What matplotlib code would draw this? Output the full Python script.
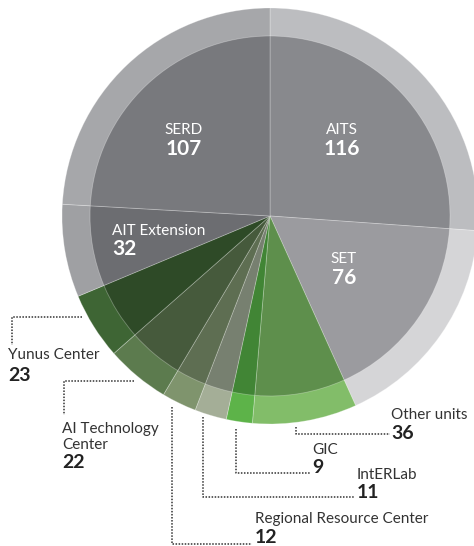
import matplotlib
matplotlib.use("Agg")
import matplotlib.pyplot as plt

# ---- data ----
units = ["AITS", "SET", "Other units", "GIC", "IntERLab", "Regional Resource Center",
         "AI Technology Center", "Yunus Center", "AIT Extension", "SERD"]
counts = [116, 76, 36, 9, 11, 12, 22, 23, 32, 107]
inner_colors = ["#88898d", "#9b9b9f", "#5e8f4c", "#418535", "#778070", "#5e6e52",
                "#465a3c", "#2e4a27", "#6c6d71", "#78797d"]
outer_colors = ["#bcbdc0", "#d5d5d7", "#82bd69", "#5db349", "#a4ae97", "#7f946d",
                "#5c7b4e", "#3e6534", "#9fa0a3", "#a6a7aa"]

W, H = 474, 546
fam = ["Lato", "DejaVu Sans"]

fig = plt.figure(figsize=(W / 100, H / 100), dpi=100)
ax = fig.add_axes([0, 0, 1, 1])

def Y(y):
    return H - y

cx, cy = 270, Y(216)
edge = dict(linewidth=0.6, edgecolor=(1, 1, 1, 0.3))
ax.pie(counts, radius=208, center=(cx, cy), startangle=90, counterclock=False,
       colors=outer_colors, wedgeprops=edge)
ax.pie(counts, radius=180, center=(cx, cy), startangle=90, counterclock=False,
       colors=inner_colors, wedgeprops=edge)

ax.set_xlim(0, W)
ax.set_ylim(0, H)
ax.set_aspect("equal")
ax.axis("off")

# inside labels
inside = {"SERD": (184, 134, 155, "center"),
          "AITS": (342, 134, 155, "center"),
          "AIT Extension": (112, 235, 255, "left"),
          "SET": (344, 263, 284, "center")}
for name, (x, yl, yn, ha) in inside.items():
    v = counts[units.index(name)]
    ax.text(x, Y(yl), name, color="white", fontsize=11, family=fam,
            fontweight="normal", ha=ha, va="baseline")
    ax.text(x, Y(yn), str(v), color="white", fontsize=15, family=fam,
            fontweight="bold", ha=ha, va="baseline")

lab_col = "#333333"
num_col = "#222222"
# outside labels: name lines, x, baseline list, number baseline
outside = {
    "Yunus Center": (["Yunus Center"], 8, [359], 381),
    "AI Technology Center": (["AI Technology", "Center"], 62, [433, 449], 468),
    "Other units": (["Other units"], 391, [419], 439),
    "GIC": (["GIC"], 312, [454], 473),
    "IntERLab": (["IntERLab"], 357, [479], 498),
    "Regional Resource Center": (["Regional Resource Center"], 255, [523], 543),
}
for name, (lines, x, ybs, yn) in outside.items():
    v = counts[units.index(name)]
    for ln, yb in zip(lines, ybs):
        ax.text(x, Y(yb), ln, color=lab_col, fontsize=11, family=fam,
                fontweight="normal", ha="left", va="baseline")
    ax.text(x, Y(yn), str(v), color=num_col, fontsize=14, family=fam,
            fontweight="bold", ha="left", va="baseline")

# dotted connectors
conn = {
    "Yunus Center": ([82, 12, 12], [317, 317, 345]),
    "AI Technology Center": ([134, 64, 64], [381, 381, 415]),
    "Other units": ([296, 296, 390], [427, 434, 434]),
    "GIC": ([236, 236, 310], [429, 473, 473]),
    "IntERLab": ([203, 203, 354], [417, 497, 497]),
    "Regional Resource Center": ([172, 172, 252], [407, 544, 544]),
}
for name, (xs, ys) in conn.items():
    ax.plot(xs, [Y(v) for v in ys], color="#333333", lw=1.1,
            linestyle=(0, (1, 1)), solid_capstyle="butt")

fig.savefig("out.png", dpi=100)
